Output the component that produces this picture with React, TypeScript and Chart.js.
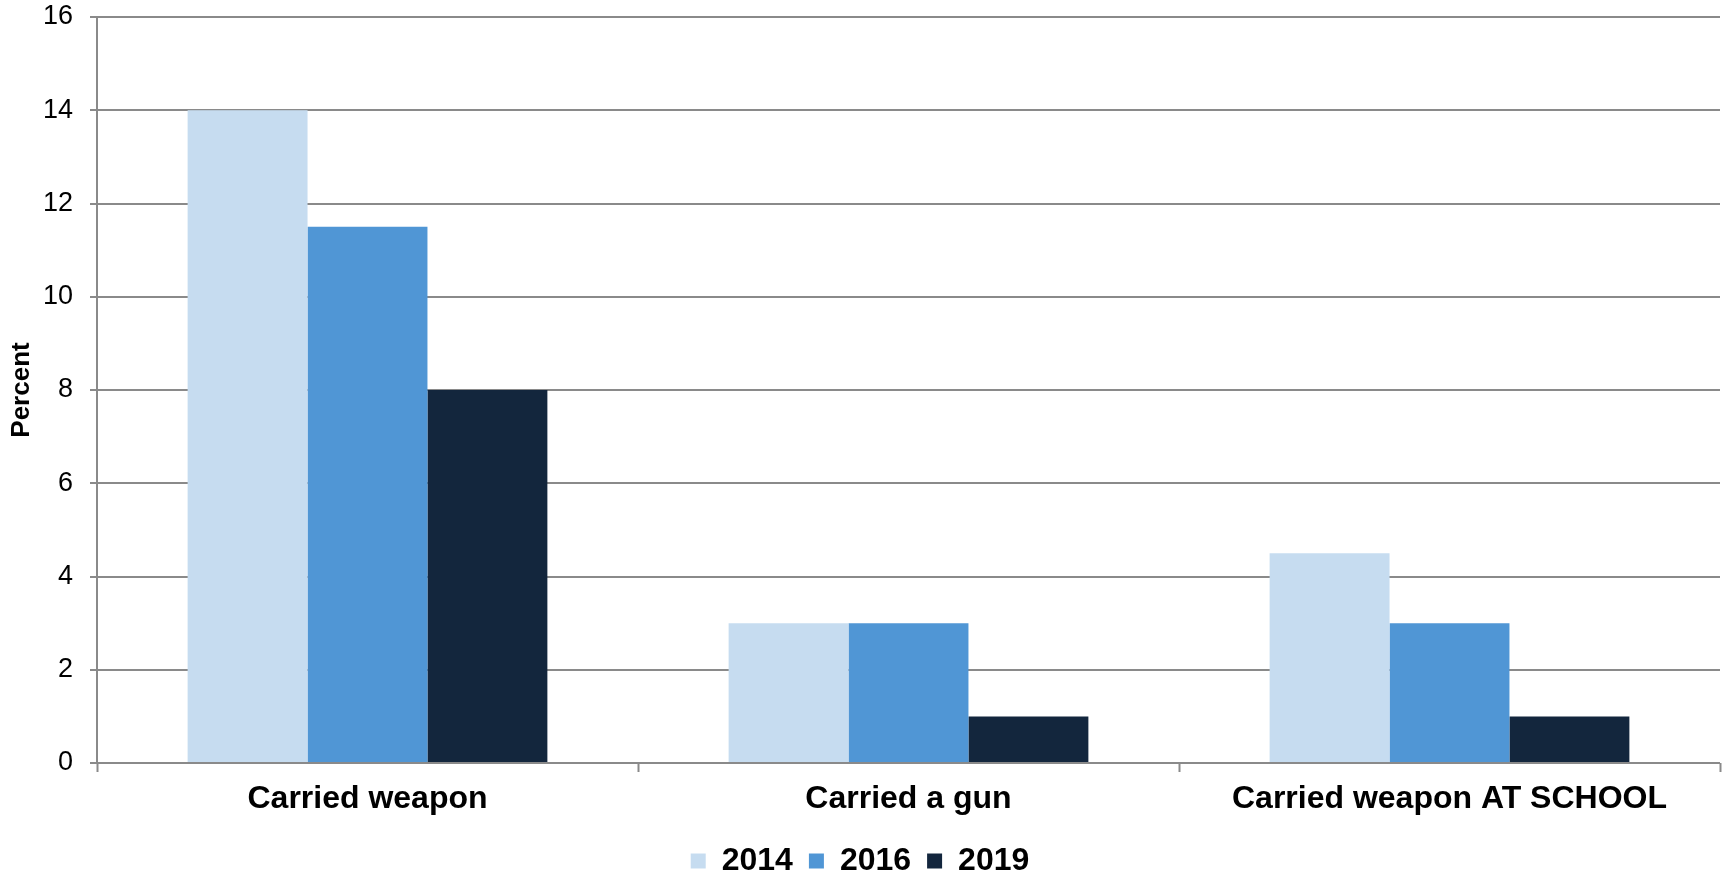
import React, { useEffect, useRef } from "react";
import { Chart, registerables } from "chart.js";

Chart.register(...registerables);

const categories = ["Carried weapon", "Carried a gun", "Carried weapon AT SCHOOL"];
const years = ["2014", "2016", "2019"];
const values2014 = [14, 3, 4.5];
const values2016 = [11.5, 3, 3];
const values2019 = [8, 1, 1];
const colors = ["#C6DCF0", "#5096D5", "#13263D"];
const yTicks = [0, 2, 4, 6, 8, 10, 12, 14, 16];

const GRID = "#8A8A8A";
const FONT = "'Liberation Sans', Arial, sans-serif";

export default function App() {
  const ref = useRef<HTMLCanvasElement | null>(null);

  useEffect(() => {
    document.body.style.margin = "0";
    const canvas = ref.current;
    if (!canvas) return;
    const chart = new Chart(canvas, {
      type: "bar",
      data: {
        labels: categories,
        datasets: [values2014, values2016, values2019].map((d, i) => ({
          label: years[i],
          data: d,
          backgroundColor: colors[i],
          borderWidth: 0,
          barPercentage: 1,
          categoryPercentage: 0.665,
        })),
      },
      options: {
        responsive: false,
        animation: false,
        devicePixelRatio: 1,
        layout: { padding: { left: 0, top: 17, right: 5, bottom: -11 } },
        plugins: {
          tooltip: { enabled: false },
          legend: {
            position: "bottom",
            labels: {
              boxWidth: 15,
              boxHeight: 15,
              padding: 16,
              color: "#000",
              font: { family: FONT, size: 32, weight: "bold" },
            },
          },
        },
        scales: {
          x: {
            grid: {
              display: true,
              drawOnChartArea: false,
              drawTicks: true,
              tickLength: 9,
              tickWidth: 2,
              tickColor: GRID,
              offset: true,
            },
            border: { display: false },
            ticks: {
              color: "#000",
              padding: 8,
              font: { family: FONT, size: 32, weight: "bold" },
            },
            afterFit: (s: any) => {
              s.height = 66;
            },
          },
          y: {
            min: 0,
            max: 16,
            afterBuildTicks: (s: any) => {
              s.ticks = yTicks.map((v) => ({ value: v }));
            },
            grid: {
              color: GRID,
              lineWidth: 2,
              drawTicks: true,
              tickLength: 7,
              tickColor: GRID,
            },
            border: { display: true, color: GRID, width: 2 },
            ticks: {
              color: "#000",
              padding: 17,
              font: { family: FONT, size: 27 },
            },
            title: {
              display: true,
              text: "Percent",
              color: "#000",
              padding: { top: 6, bottom: 0 },
              font: { family: FONT, size: 26, weight: "bold" },
            },
            afterFit: (s: any) => {
              s.width = 97;
              s.paddingTop = 0;
              s.paddingBottom = 0;
            },
          },
        },
      },
    });
    return () => chart.destroy();
  }, []);

  return <canvas ref={ref} width={1725} height={876} style={{ display: "block" }} />;
}
